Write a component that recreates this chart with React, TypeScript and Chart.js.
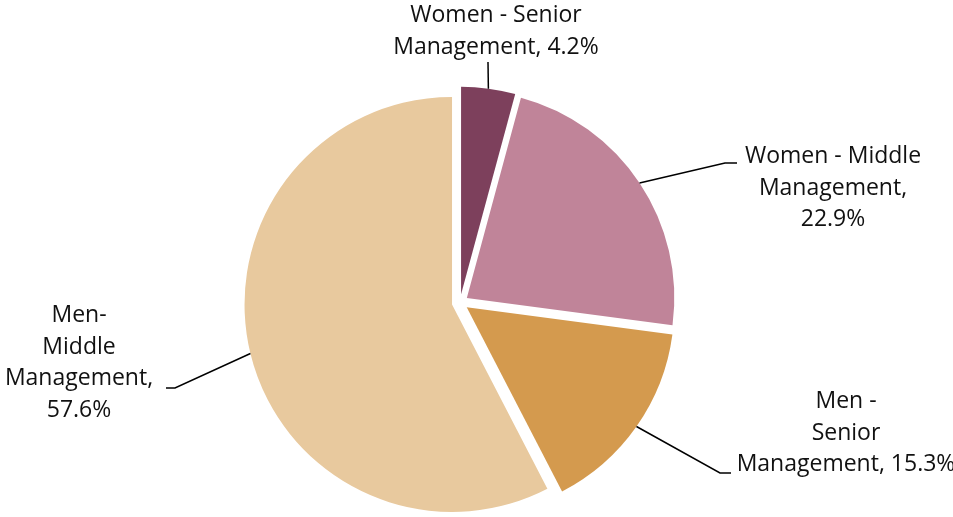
import React, { useEffect, useRef } from "react";
import { Chart, registerables } from "chart.js";

Chart.register(...registerables);

// ---- data ----
const categories = [
  "Women - Senior Management",
  "Women - Middle Management",
  "Men - Senior Management",
  "Men- Middle Management",
];
const shares = [4.2, 22.9, 15.3, 57.6];
const sliceColors = ["#7D405C", "#C08499", "#D49A4E", "#E8C99E"];
const labelLines = [
  ["Women - Senior", "Management, 4.2%"],
  ["Women - Middle", "Management,", "22.9%"],
  ["Men -", "Senior", "Management, 15.3%"],
  ["Men-", "Middle", "Management,", "57.6%"],
];

// ---- label layout (annotation positions, not data) ----
const labelCenterX = [496, 833, 846, 79];
const labelFirstBaseline = [22, 163, 408, 322];
const leaderElbow: (number[] | null)[] = [[488, 62], [725, 163], [720, 473], [175, 388]];
const leaderEndX: (number | null)[] = [null, 737, 731, 166];

const EXPLODE = 8.2;
const RADIUS = 207.5;
const FONT = "23px 'Open Sans'";
const LINE_H = 31.5;

const explodePlugin = {
  id: "explode",
  beforeDatasetDraw(chart: any, args: any) {
    const ctx = chart.ctx;
    args.meta.data.forEach((arc: any) => {
      const p = arc.getProps(["startAngle", "endAngle"], true);
      const mid = (p.startAngle + p.endAngle) / 2;
      ctx.save();
      ctx.translate(Math.cos(mid) * EXPLODE, Math.sin(mid) * EXPLODE);
      arc.draw(ctx, chart.chartArea);
      ctx.restore();
    });
    return false;
  },
};

const labelPlugin = {
  id: "pieLabels",
  afterDraw(chart: any) {
    const ctx = chart.ctx;
    const meta = chart.getDatasetMeta(0);
    ctx.save();
    meta.data.forEach((arc: any, i: number) => {
      const p = arc.getProps(["x", "y", "startAngle", "endAngle", "outerRadius"], true);
      const mid = (p.startAngle + p.endAngle) / 2;
      const r = p.outerRadius + EXPLODE;
      const sx = p.x + Math.cos(mid) * r;
      const sy = p.y + Math.sin(mid) * r;
      ctx.strokeStyle = "#000";
      ctx.lineWidth = 1.5;
      ctx.beginPath();
      ctx.moveTo(sx, sy);
      const elbow = leaderElbow[i];
      if (elbow) {
        ctx.lineTo(elbow[0], elbow[1]);
        const ex = leaderEndX[i];
        if (ex != null) ctx.lineTo(ex, elbow[1]);
      }
      ctx.stroke();

      ctx.fillStyle = "#111";
      ctx.font = FONT;
      ctx.textAlign = "center";
      ctx.textBaseline = "alphabetic";
      labelLines[i].forEach((line, k) => {
        ctx.fillText(line, labelCenterX[i], labelFirstBaseline[i] + k * LINE_H);
      });
    });
    ctx.restore();
  },
};

export default function App() {
  const ref = useRef<HTMLCanvasElement | null>(null);
  useEffect(() => {
    document.body.style.margin = "0";
    const chart = new Chart(ref.current!, {
      type: "pie",
      data: {
        labels: categories,
        datasets: [
          {
            data: shares,
            backgroundColor: sliceColors,
            borderWidth: 0,
            radius: RADIUS,
          } as any,
        ],
      },
      options: {
        animation: false,
        responsive: true,
        maintainAspectRatio: false,
        layout: { padding: { left: 0, right: 33, top: 88, bottom: 0 } },
        plugins: {
          legend: { display: false },
          tooltip: { enabled: false },
        },
      },
      plugins: [explodePlugin, labelPlugin],
    });
    return () => chart.destroy();
  }, []);
  return (
    <div style={{ position: "fixed", left: 0, top: 0, width: 953, height: 517, background: "#fff" }}>
      <canvas ref={ref} />
    </div>
  );
}
